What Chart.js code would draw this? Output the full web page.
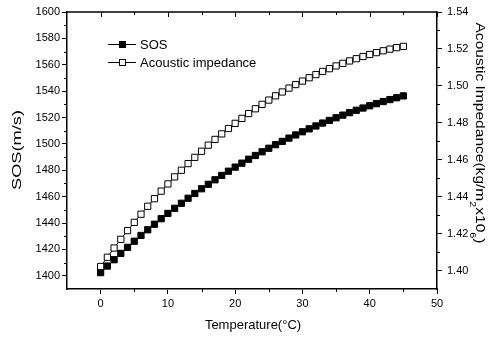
<!DOCTYPE html>
<html>
<head>
<meta charset="utf-8">
<script src="https://cdn.jsdelivr.net/npm/chart.js@4.4.0/dist/chart.umd.min.js"></script>
<style>
  html, body { margin: 0; padding: 0; background: #fff; }
  #wrap { width: 493px; height: 337px; }
</style>
</head>
<body>
<div id="wrap"><canvas id="myChart" width="493" height="337"></canvas></div>
<script>
// temperature in degrees C
const temperature = [0, 1, 2, 3, 4, 5, 6, 7, 8, 9, 10, 11, 12, 13, 14, 15, 16, 17, 18, 19, 20, 21, 22,
  23, 24, 25, 26, 27, 28, 29, 30, 31, 32, 33, 34, 35, 36, 37, 38, 39, 40, 41, 42, 43, 44, 45];

// speed of sound (m/s)
const sos = [1402.4, 1407.4, 1412.2, 1417.0, 1421.6, 1426.2, 1430.6, 1434.9, 1439.1, 1443.3,
  1447.3, 1451.2, 1455.0, 1458.8, 1462.4, 1466.0, 1469.4, 1472.8, 1476.1, 1479.3,
  1482.4, 1485.4, 1488.4, 1491.2, 1494.0, 1496.7, 1499.4, 1501.9, 1504.4, 1506.8,
  1509.2, 1511.4, 1513.6, 1515.8, 1517.8, 1519.8, 1521.8, 1523.7, 1525.5, 1527.2,
  1528.9, 1530.5, 1532.1, 1533.6, 1535.0, 1536.4];

// acoustic impedance (kg/m2 x 10^6)
const impedance = [1.4022, 1.4072, 1.4122, 1.4169, 1.4216, 1.4261, 1.4305, 1.4348, 1.4389, 1.4430,
  1.4469, 1.4507, 1.4543, 1.4579, 1.4613, 1.4646, 1.4679, 1.4710, 1.4740, 1.4769,
  1.4797, 1.4824, 1.4850, 1.4876, 1.4900, 1.4923, 1.4946, 1.4967, 1.4988, 1.5007,
  1.5026, 1.5044, 1.5061, 1.5078, 1.5093, 1.5108, 1.5122, 1.5135, 1.5147, 1.5159,
  1.5170, 1.5180, 1.5190, 1.5199, 1.5207, 1.5214];

const xTicks = [0, 10, 20, 30, 40, 50];
const sosTicks = [1400, 1420, 1440, 1460, 1480, 1500, 1520, 1540, 1560, 1580, 1600];
const impTicks = [1.40, 1.42, 1.44, 1.46, 1.48, 1.50, 1.52, 1.54];

const seriesNames = ["SOS", "Acoustic impedance"];

const FONT = "'Liberation Sans', Arial, sans-serif";
Chart.defaults.color = "#000";
Chart.defaults.font.family = FONT;

// frame, minor ticks, axis titles and legend
const extras = {
  id: "extras",
  afterDraw(chart) {
    const ctx = chart.ctx;
    const a = chart.chartArea;
    const sx = chart.scales.x, sy = chart.scales.y, sy1 = chart.scales.y1;
    ctx.save();
    ctx.strokeStyle = "#000";
    ctx.lineWidth = 1.5;
    ctx.beginPath();
    ctx.moveTo(a.left, a.top);
    ctx.lineTo(a.right, a.top);
    ctx.stroke();

    ctx.lineWidth = 1;
    ctx.beginPath();
    // x minor ticks + top ticks
    for (let v = 5; v < 50; v += 10) {
      const px = Math.round(sx.getPixelForValue(v)) + 0.5;
      ctx.moveTo(px, a.bottom); ctx.lineTo(px, a.bottom + 3);
      ctx.moveTo(px, a.top); ctx.lineTo(px, a.top + 3);
    }
    xTicks.forEach(v => {
      const px = Math.round(sx.getPixelForValue(v)) + 0.5;
      ctx.moveTo(px, a.top); ctx.lineTo(px, a.top + 5);
    });
    // left minor ticks
    for (let v = 1410; v < 1600; v += 20) {
      const py = Math.round(sy.getPixelForValue(v)) + 0.5;
      ctx.moveTo(a.left, py); ctx.lineTo(a.left - 3, py);
    }
    // right minor ticks
    for (let k = 141; k < 154; k += 2) {
      const py = Math.round(sy1.getPixelForValue(k / 100)) + 0.5;
      ctx.moveTo(a.right, py); ctx.lineTo(a.right + 3, py);
    }
    ctx.stroke();

    // titles
    ctx.fillStyle = "#000";
    ctx.textBaseline = "middle";
    ctx.textAlign = "center";
    ctx.font = "13px " + FONT;
    ctx.fillText("Temperature(°C)", 253, 325);

    drawVertical(ctx, [{ t: "SOS(m/s)" }], 17, 150, -Math.PI / 2, 80, 0);
    drawVertical(ctx, [
      { t: "Acoustic Impedance(kg/m" }, { t: "2", sup: true }, { t: "x10" }, { t: "6", sup: true }, { t: ")" }
    ], 480, 133, Math.PI / 2, 221, 1);

    // legend
    const rows = [{ y: 44, fill: "#000" }, { y: 62, fill: "#fff" }];
    ctx.textAlign = "left";
    ctx.font = "13px " + FONT;
    rows.forEach((r, i) => {
      ctx.beginPath();
      ctx.moveTo(108, r.y + 0.5); ctx.lineTo(136, r.y + 0.5);
      ctx.stroke();
      ctx.fillStyle = r.fill;
      ctx.fillRect(119.5, r.y - 2.5, 6, 6);
      ctx.strokeRect(119.5, r.y - 2.5, 6, 6);
      ctx.fillStyle = "#000";
      ctx.fillText(seriesNames[i], 140, r.y + 1);
    });
    ctx.restore();
  }
};

function drawVertical(ctx, parts, cx, cy, angle, length, supSide) {
  ctx.save();
  ctx.translate(cx, cy);
  ctx.rotate(angle);
  let total = 0;
  parts.forEach(p => {
    ctx.font = (p.sup ? "9px " : "13px ") + FONT;
    p.w = ctx.measureText(p.t).width;
    total += p.w;
  });
  ctx.scale(length / total, 1);
  ctx.textAlign = "left";
  ctx.textBaseline = "middle";
  let x = -total / 2;
  parts.forEach(p => {
    ctx.font = (p.sup ? "9px " : "13px ") + FONT;
    const dy = p.sup ? (supSide ? 8 : -5) : 0;
    ctx.fillText(p.t, x, dy);
    x += p.w;
  });
  ctx.restore();
}

const tickFont = { size: 11, family: FONT };
const gridOpts = { drawOnChartArea: false, drawTicks: true, tickLength: 5, color: "#000", lineWidth: 1 };
const borderOpts = { display: true, color: "#000", width: 1.5 };

new Chart(document.getElementById("myChart"), {
  type: "scatter",
  data: {
    datasets: [
      {
        label: seriesNames[0],
        data: temperature.map((t, i) => ({ x: t, y: sos[i] })),
        yAxisID: "y",
        showLine: true,
        borderColor: "#000",
        borderWidth: 1,
        backgroundColor: "#000",
        pointStyle: "rect",
        pointRadius: 4.4,
        pointBorderWidth: 1,
        pointBorderColor: "#000",
        pointBackgroundColor: "#000",
      },
      {
        label: seriesNames[1],
        data: temperature.map((t, i) => ({ x: t, y: impedance[i] })),
        yAxisID: "y1",
        showLine: true,
        borderColor: "#000",
        borderWidth: 1,
        backgroundColor: "#fff",
        pointStyle: "rect",
        pointRadius: 4.4,
        pointBorderWidth: 1,
        pointBorderColor: "#000",
        pointBackgroundColor: "#fff",
      },
    ],
  },
  options: {
    responsive: false,
    animation: false,
    devicePixelRatio: 1,
    layout: { padding: { top: 12, left: 0, right: 0, bottom: 0 } },
    plugins: { legend: { display: false }, tooltip: { enabled: false } },
    scales: {
      x: {
        type: "linear",
        min: -5,
        max: 50,
        afterBuildTicks: s => { s.ticks = xTicks.map(v => ({ value: v })); },
        afterFit: s => { s.height = 48; },
        grid: gridOpts,
        border: borderOpts,
        ticks: { font: tickFont, padding: 3, autoSkip: false, maxRotation: 0, callback: v => String(v) },
      },
      y: {
        position: "left",
        min: 1390,
        max: 1600,
        afterBuildTicks: s => { s.ticks = sosTicks.map(v => ({ value: v })); },
        afterFit: s => { s.width = 67; },
        grid: gridOpts,
        border: borderOpts,
        ticks: { font: tickFont, padding: 2, autoSkip: false, callback: v => String(v) },
      },
      y1: {
        position: "right",
        min: 1.39,
        max: 1.54,
        afterBuildTicks: s => { s.ticks = impTicks.map(v => ({ value: v })); },
        afterFit: s => { s.width = 56; },
        grid: gridOpts,
        border: borderOpts,
        ticks: { font: tickFont, padding: 5, autoSkip: false, callback: v => v.toFixed(2) },
      },
    },
  },
  plugins: [extras],
});
</script>
</body>
</html>
